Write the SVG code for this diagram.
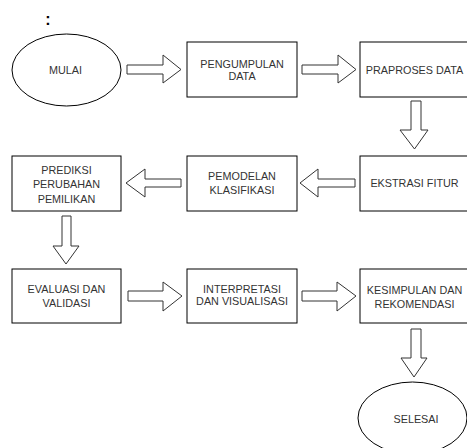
<svg xmlns="http://www.w3.org/2000/svg" width="467" height="448" viewBox="0 0 467 448">
<style>
  .n { fill: #ffffff; stroke: #000000; stroke-width: 1; }
  .a { fill: #ffffff; stroke: #333333; stroke-width: 1; stroke-linejoin: miter; }
  text { font-family: "Liberation Sans", Arial, sans-serif; font-size: 10.8px; fill: #333333; text-anchor: middle; }
  .colon { font-size: 16px; font-weight: bold; fill: #000000; }
</style>
<rect width="467" height="448" fill="#ffffff"/>
<text class="colon" x="48" y="24.5">:</text>
<g id="connectors">
  <polygon class="a" points="127,65 163,65 163,55 181,69.5 163,83 163,74 127,74"/>
  <polygon class="a" points="302,65 338,65 338,55 356,69.5 338,83 338,74 302,74"/>
  <polygon class="a" points="411,101 421,101 421,130 428,130 414.5,149 400,130 411,130"/>
  <polygon class="a" points="355,179 318,179 318,169 300,183 318,197 318,187 355,187"/>
  <polygon class="a" points="181,179 145,179 145,169 126,183 145,197 145,187 181,187"/>
  <polygon class="a" points="62,216 71,216 71,246 79,246 66,264 53,246 62,246"/>
  <polygon class="a" points="128,291 163,291 163,282 182,296 163,311 163,301 128,301"/>
  <polygon class="a" points="302,291 337,291 337,282 356,296 337,311 337,301 302,301"/>
  <polygon class="a" points="411,329 421,329 421,358 427,358 414,377 401,358 411,358"/>
</g>
<g id="mulai">
  <ellipse class="n" cx="66.5" cy="70" rx="54.5" ry="36"/>
  <text x="65.5" y="73.5">MULAI</text>
</g>
<g id="pengumpulan">
  <rect class="n" x="187" y="42" width="110" height="55"/>
  <text x="242" y="68.3">PENGUMPULAN</text>
  <text x="242" y="80">DATA</text>
</g>
<g id="praproses">
  <rect class="n" x="360" y="42" width="110" height="55"/>
  <text x="414.5" y="73.5">PRAPROSES DATA</text>
</g>
<g id="ekstrasi">
  <rect class="n" x="360" y="156" width="110" height="55"/>
  <text x="414.5" y="187">EKSTRASI FITUR</text>
</g>
<g id="pemodelan">
  <rect class="n" x="187" y="156" width="110" height="55"/>
  <text x="242" y="180">PEMODELAN</text>
  <text x="242" y="194">KLASIFIKASI</text>
</g>
<g id="prediksi">
  <rect class="n" x="12" y="156" width="109" height="55"/>
  <text x="66.5" y="173.5">PREDIKSI</text>
  <text x="66.5" y="188">PERUBAHAN</text>
  <text x="66.5" y="202.5">PEMILIKAN</text>
</g>
<g id="evaluasi">
  <rect class="n" x="12" y="269" width="109" height="54"/>
  <text x="66.5" y="292.5">EVALUASI DAN</text>
  <text x="66.5" y="307">VALIDASI</text>
</g>
<g id="interpretasi">
  <rect class="n" x="187" y="269" width="110" height="54"/>
  <text x="242" y="293.3">INTERPRETASI</text>
  <text x="242" y="305">DAN VISUALISASI</text>
</g>
<g id="kesimpulan">
  <rect class="n" x="360" y="269" width="110" height="54"/>
  <text x="414.5" y="293.5">KESIMPULAN DAN</text>
  <text x="414.5" y="307.5">REKOMENDASI</text>
</g>
<g id="selesai">
  <ellipse class="n" cx="412.5" cy="418" rx="54.5" ry="36"/>
  <text x="416" y="422.5">SELESAI</text>
</g>
</svg>
